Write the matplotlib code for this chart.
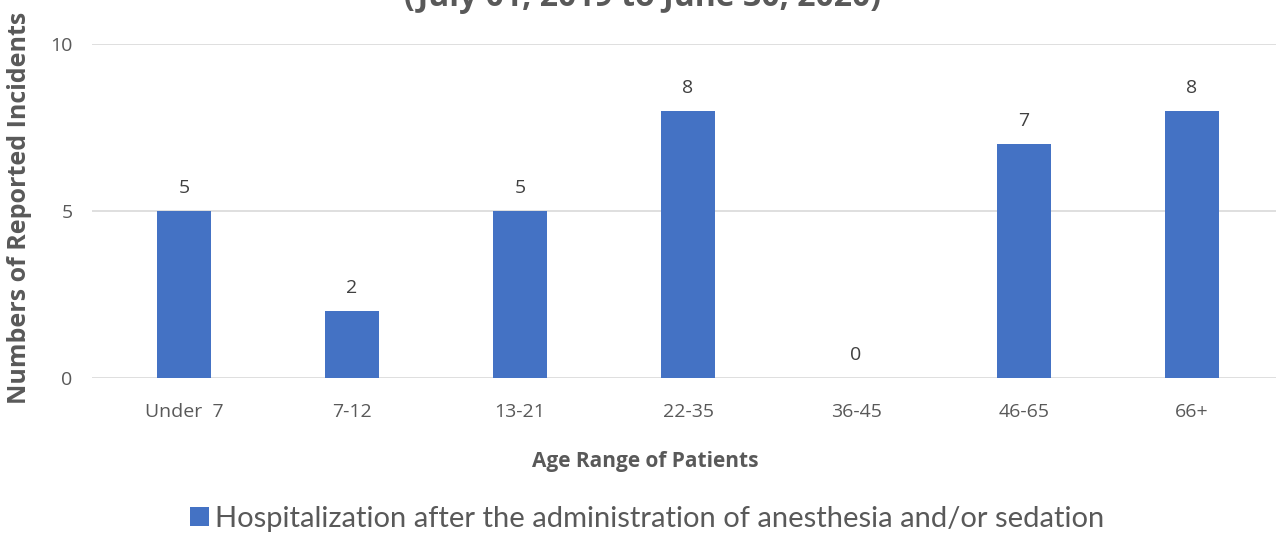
import matplotlib.pyplot as plt

categories = ['Under  7', '7-12', '13-21', '22-35', '36-45', '46-65', '66+']
incidents = [5, 2, 5, 8, 0, 7, 8]
series_name = 'Hospitalization after the administration of anesthesia and/or sedation'
title = '(July 01, 2019 to June 30, 2020)'

W, H = 1276, 536
fig = plt.figure(figsize=(W / 100, H / 100), dpi=100)
ax = fig.add_axes([92 / W, 1 - 378 / H, (W - 92) / W, 334 / H])

x = range(len(categories))
bars = ax.bar(x, incidents, width=0.32, color='#4472C4', label=series_name, zorder=3)
for xi, v in zip(x, incidents):
    ax.annotate(str(v), (xi, v), xytext=(0, 13), textcoords='offset points',
                ha='center', va='baseline', fontsize=14, color='#404040', family='Open Sans')

# category spacing 168 px, first centre at x=184
ax.set_xlim(-92 / 168, (W - 184) / 168)
ax.set_ylim(0, 10)
ax.set_yticks([0, 5, 10])
ax.set_xticks(list(x))
ax.set_xticklabels(categories, fontsize=14, color='#595959', family='Open Sans')
ax.tick_params(axis='y', labelsize=14, labelcolor='#595959', length=0, pad=14)
ax.tick_params(axis='x', length=0, pad=18)
for lbl in ax.get_yticklabels():
    lbl.set_family('Open Sans')
ax.grid(axis='y', color='#d9d9d9', linewidth=1.2, zorder=0)
for s in ax.spines.values():
    s.set_visible(False)

fig.text(645 / W, 1 - 467 / H, 'Age Range of Patients', ha='center', va='baseline',
         fontsize=15, fontweight='bold', color='#595959', family='Open Sans')
fig.text(20 / W, 1 - 208 / H, 'Numbers of Reported Incidents', rotation=90,
         ha='center', va='center', fontsize=18, fontweight='bold', color='#595959', family='Open Sans')

fig.text(642 / W, 1 - 6 / H, title, ha='center', va='baseline',
         fontsize=23, fontweight='bold', color='#595959', family='Open Sans')

fig.legend(handles=[bars], labels=[series_name], loc='center', bbox_to_anchor=(647 / W, 1 - 519 / H),
           frameon=False, handlelength=0.65, handleheight=0.65, handletextpad=0.2,
           labelcolor='#595959', prop={'family': 'Lato', 'size': 21})

fig.savefig('out.png', dpi=100)
